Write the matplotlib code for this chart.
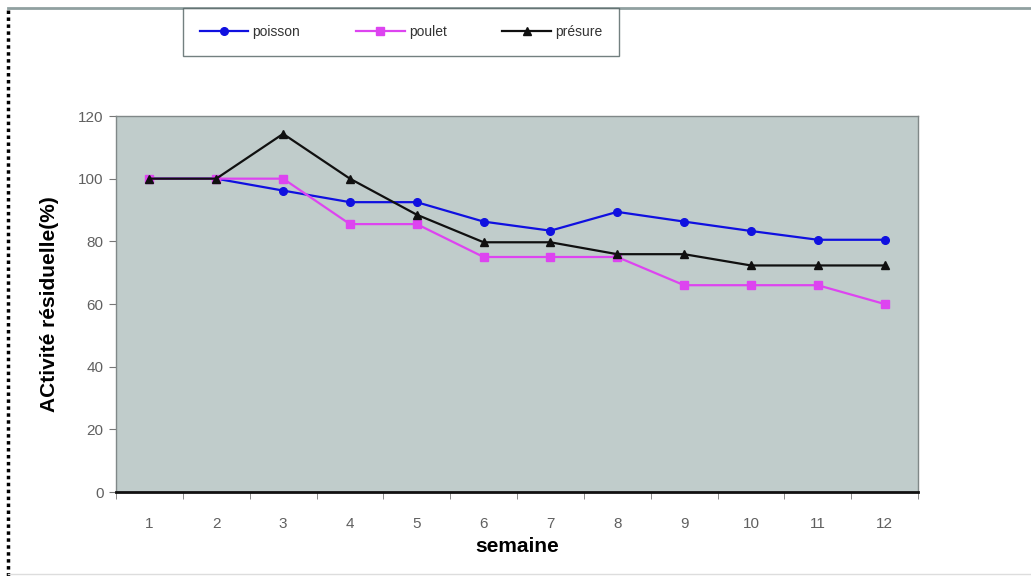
import matplotlib
matplotlib.use("Agg")
import matplotlib.pyplot as plt
from matplotlib.lines import Line2D

plt.rcParams['font.family'] = ['Liberation Sans', 'DejaVu Sans']

semaines = [1, 2, 3, 4, 5, 6, 7, 8, 9, 10, 11, 12]
poisson = [100, 100, 96.2, 92.5, 92.5, 86.3, 83.4, 89.4, 86.3, 83.3, 80.5, 80.5]
poulet = [100, 100, 100, 85.5, 85.5, 75, 75, 75, 66, 66, 66, 60]
presure = [100, 100, 114.3, 100, 88.5, 79.7, 79.7, 75.9, 75.9, 72.3, 72.3, 72.3]
y_ticks = [0, 20, 40, 60, 80, 100, 120]

fig = plt.figure(figsize=(10.31, 5.76), dpi=100)
ax = fig.add_axes([116 / 1031, 1 - 492 / 576, 802 / 1031, 376 / 576])
ax.set_facecolor('#c0cccb')

ax.plot(semaines, poisson, color='#1010e0', marker='o', markersize=5.5, lw=1.6, label='poisson')
ax.plot(semaines, poulet, color='#dd44f0', marker='s', markersize=5.5, lw=1.6, label='poulet')
ax.plot(semaines, presure, color='#101010', marker='^', markersize=5.5, lw=1.6, label='présure')

ax.set_xlim(0.5, 12.5)
ax.set_ylim(0, 120)
ax.set_yticks(y_ticks)
ax.set_xticks(semaines)
ax.set_xticks([x + 0.5 for x in [0] + semaines], minor=True)
ax.tick_params(axis='x', which='major', length=0, pad=18, labelsize=11, labelcolor='#606060')
ax.tick_params(axis='x', which='minor', length=5, color='#777777', direction='out')
ax.tick_params(axis='y', length=5, color='#777777', pad=4, labelsize=11, labelcolor='#606060')

for side in ['top', 'right', 'left']:
    ax.spines[side].set_color('#808888')
    ax.spines[side].set_linewidth(1.0)
ax.spines['bottom'].set_color('#111111')
ax.spines['bottom'].set_linewidth(2.0)

ax.set_xlabel('semaine', fontsize=15, fontweight='bold', labelpad=4)
ax.set_ylabel('ACtivité résiduelle(%)', fontsize=15, fontweight='bold', labelpad=14)

leg = fig.legend(loc='center', bbox_to_anchor=(176 / 1031, 1 - 56 / 576, 450 / 1031, 48 / 576),
                 mode='expand', ncol=3, frameon=True, fancybox=False, fontsize=10,
                 handlelength=3.5, borderpad=1.2, handletextpad=0.3,
                 labelcolor='#333333')
leg.get_frame().set_edgecolor('#506060')
leg.get_frame().set_linewidth(1.0)

# outer chart frame
fig.add_artist(Line2D([8 / 1031, 8 / 1031], [0, 1 - 8 / 576], transform=fig.transFigure,
                      color='black', lw=2.5, linestyle=(0, (1, 1))))
fig.add_artist(Line2D([8 / 1031, 1], [1 - 8 / 576, 1 - 8 / 576], transform=fig.transFigure,
                      color='#90a0a0', lw=2))
fig.add_artist(Line2D([8 / 1031, 1], [2 / 576, 2 / 576], transform=fig.transFigure,
                      color='#dddddd', lw=1))

fig.savefig('out.png', dpi=100)
